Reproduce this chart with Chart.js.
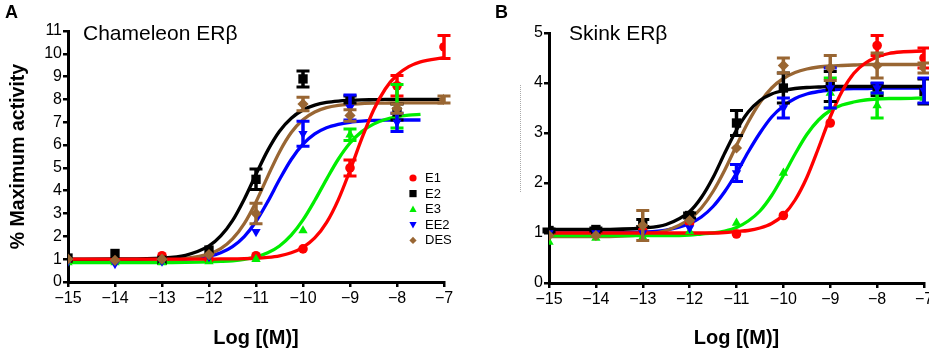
<!DOCTYPE html>
<html>
<head>
<meta charset="utf-8">
<script src="https://cdn.jsdelivr.net/npm/chart.js@4/dist/chart.umd.min.js"></script>
<style>
  html, body { margin: 0; padding: 0; background: #fff; overflow: hidden; width: 929px; height: 356px; }
  canvas { position: absolute; top: 0; }
  #chartA { left: 0; }
  #chartB { left: 470px; }
  .lbl { position: absolute; font-family: "Liberation Sans", Arial, sans-serif; color: #000; white-space: nowrap; }
  .letter { font-weight: bold; font-size: 18px; line-height: 18px; }
  .ptitle { font-size: 21px; line-height: 24px; }
  .dots { position: absolute; left: 520px; top: 85px; height: 107px; border-left: 1px dotted #aaa; }
</style>
</head>
<body>
<canvas id="chartA" width="465" height="356"></canvas>
<canvas id="chartB" width="480" height="356"></canvas>
<div class="lbl letter" style="left:5px;top:3px">A</div>
<div class="lbl letter" style="left:495px;top:3px">B</div>
<div class="lbl ptitle" style="left:83px;top:21px">Chameleon ERβ</div>
<div class="lbl ptitle" style="left:569px;top:21px">Skink ERβ</div>
<div class="dots"></div>
<script>
// log concentrations of the measured points and of the fitted curves
const xPoints = [-15, -14, -13, -12, -11, -10, -9, -8, -7];
const fitX = [-15, -14, -13, -12.5, -12, -11.75, -11.5, -11.25, -11, -10.75, -10.5, -10.25,
              -10, -9.75, -9.5, -9.25, -9, -8.75, -8.5, -8.25, -8, -7.75, -7.5, -7];
const seriesNames = ['E1', 'E2', 'E3', 'EE2', 'DES'];

// A - Chameleon ERb : means, error (half bar), fitted curve
const chamE1 = [0.95, 0.95, 1.15, 1.0, 1.15, 1.45, 5.0, 8.6, 10.3];
const chamE1Err = [0, 0, 0, 0, 0, 0, 0.35, 0.45, 0.5];
const chamE1Fit = [1.0, 1.0, 1.0, 1.0, 1.0, 1.01, 1.01, 1.02, 1.04, 1.08, 1.15, 1.28, 1.52, 1.93, 2.6, 3.6, 4.89, 6.28, 7.53, 8.46, 9.07, 9.44, 9.65, 9.83];
const chamE2 = [1.05, 1.25, 0.95, 1.4, 4.5, 8.9, 8.0, 7.45];
const chamE2Err = [0, 0, 0, 0, 0.45, 0.35, 0.15, 0.35];
const chamE2Fit = [1.0, 1.01, 1.05, 1.17, 1.58, 2.02, 2.69, 3.63, 4.72, 5.77, 6.61, 7.18, 7.54, 7.75, 7.87, 7.93, 7.96, 7.98, 7.99, 8.0, 8.0, 8.0, 8.0, 8.0];
const chamE3 = [0.85, 0.85, 0.85, 0.9, 1.0, 2.25, 6.45, 7.7];
const chamE3Err = [0, 0, 0, 0, 0, 0, 0.25, 0.95];
const chamE3Fit = [0.85, 0.85, 0.85, 0.86, 0.88, 0.9, 0.93, 0.99, 1.1, 1.28, 1.58, 2.05, 2.72, 3.57, 4.5, 5.38, 6.09, 6.59, 6.92, 7.12, 7.24, 7.31, 7.35, null];
const chamEE2 = [0.9, 0.8, 0.9, 1.1, 2.2, 6.5, 7.65, 7.0];
const chamEE2Err = [0, 0, 0, 0, 0, 0.55, 0.55, 0.4];
const chamEE2Fit = [0.95, 0.95, 0.97, 1.0, 1.13, 1.28, 1.55, 1.99, 2.65, 3.52, 4.49, 5.37, 6.04, 6.49, 6.76, 6.91, 7.0, 7.05, 7.08, 7.09, 7.1, 7.1, 7.1, null];
const chamDES = [1.0, 0.95, 1.0, 1.2, 3.0, 7.8, 7.3, 7.6, 8.0];
const chamDESErr = [0, 0, 0, 0, 0.45, 0.3, 0.25, 0.2, 0.15];
const chamDESFit = [0.95, 0.95, 0.97, 1.03, 1.23, 1.46, 1.89, 2.56, 3.51, 4.63, 5.7, 6.55, 7.11, 7.45, 7.64, 7.74, 7.79, 7.82, 7.84, 7.84, 7.85, 7.85, 7.85, 7.85];

// B - Skink ERb
const skinkE1 = [1.0, 1.0, 1.05, 1.2, 0.98, 1.35, 3.2, 4.75, 4.5];
const skinkE1Err = [0, 0, 0, 0, 0, 0, 0, 0.2, 0.2];
const skinkE1Fit = [1.0, 1.0, 1.0, 1.0, 1.0, 1.0, 1.0, 1.01, 1.03, 1.05, 1.1, 1.19, 1.36, 1.66, 2.11, 2.7, 3.32, 3.83, 4.19, 4.4, 4.52, 4.59, 4.62, 4.64];
const skinkE2 = [1.05, 1.07, 1.2, 1.35, 3.2, 3.9, 3.93, 3.87, 3.83];
const skinkE2Err = [0.03, 0.03, 0.07, 0.05, 0.25, 0.3, 0.3, 0.12, 0.25];
const skinkE2Fit = [1.07, 1.07, 1.1, 1.17, 1.43, 1.71, 2.11, 2.6, 3.06, 3.42, 3.65, 3.78, 3.85, 3.89, 3.91, 3.92, 3.93, 3.93, 3.93, 3.93, 3.93, 3.93, 3.93, 3.93];
const skinkE3 = [0.82, 0.9, 0.92, 1.03, 1.2, 2.2, 3.8, 3.55, 3.7];
const skinkE3Err = [0, 0, 0, 0, 0, 0, 0.3, 0.25, 0];
const skinkE3Fit = [0.95, 0.95, 0.95, 0.95, 0.96, 0.98, 1.0, 1.04, 1.11, 1.24, 1.44, 1.75, 2.15, 2.58, 2.97, 3.26, 3.45, 3.56, 3.62, 3.66, 3.68, 3.69, 3.69, 3.7];
const skinkEE2 = [1.0, 1.0, 1.0, 1.1, 2.2, 3.5, 3.9, 3.9, 3.85];
const skinkEE2Err = [0, 0, 0, 0, 0.17, 0.2, 0.4, 0.1, 0.25];
const skinkEE2Fit = [1.0, 1.0, 1.02, 1.06, 1.19, 1.32, 1.53, 1.83, 2.2, 2.62, 3.0, 3.32, 3.54, 3.69, 3.78, 3.83, 3.86, 3.88, 3.89, 3.89, 3.9, 3.9, 3.9, 3.9];
const skinkDES = [0.95, 0.95, 1.15, 1.25, 2.7, 4.35, 4.3, 4.35, 4.3];
const skinkDESErr = [0, 0, 0.3, 0, 0, 0.15, 0.25, 0.25, 0.1];
const skinkDESFit = [0.93, 0.93, 0.97, 1.05, 1.28, 1.5, 1.83, 2.26, 2.75, 3.22, 3.61, 3.9, 4.09, 4.21, 4.28, 4.32, 4.34, 4.35, 4.36, 4.37, 4.37, 4.37, 4.37, 4.37];

// styles
const colors = ['#ff0000', '#000000', '#00ee00', '#0000ff', '#996633'];
const shapes = ['circle', 'rect', 'triangle', 'triangle', 'rectRot'];
const rotations = [0, 0, 0, 180, 0];
const radii = [4.8, 6.6, 5.4, 5.4, 5.6];
const curveOrder = [10, 11, 12, 14, 13];

const FONT = '"Liberation Sans", Arial, sans-serif';
Chart.defaults.font.family = FONT;
Chart.defaults.color = '#000';

const errorBars = {
    id: 'errorBars',
    beforeDatasetDraw(chart, args) {
        const ds = chart.data.datasets[args.index];
        if (!ds.errors) return;
        const ctx = chart.ctx, ys = chart.scales.y;
        ctx.save();
        ctx.strokeStyle = ds.borderColor;
        args.meta.data.forEach((pt, i) => {
            const e = ds.errors[i];
            if (!e) return;
            const v = ds.data[i].y;
            const top = ys.getPixelForValue(v + e), bot = ys.getPixelForValue(v - e);
            ctx.lineWidth = 3.5;
            ctx.beginPath();
            ctx.moveTo(pt.x, top); ctx.lineTo(pt.x, bot);
            ctx.stroke();
            ctx.lineWidth = 3;
            ctx.beginPath();
            ctx.moveTo(pt.x - 6.5, top); ctx.lineTo(pt.x + 6.5, top);
            ctx.moveTo(pt.x - 6.5, bot); ctx.lineTo(pt.x + 6.5, bot);
            ctx.stroke();
        });
        ctx.restore();
    }
};

function marker(ctx, shape, rot, x, y, r) {
    ctx.beginPath();
    if (shape === 'circle') ctx.arc(x, y, r, 0, Math.PI * 2);
    else if (shape === 'rect') ctx.rect(x - r, y - r, 2 * r, 2 * r);
    else if (shape === 'rectRot') { ctx.moveTo(x, y - r); ctx.lineTo(x + r, y); ctx.lineTo(x, y + r); ctx.lineTo(x - r, y); }
    else {
        const d = rot ? -1 : 1;
        ctx.moveTo(x, y - d * r); ctx.lineTo(x + r, y + d * r * 0.75); ctx.lineTo(x - r, y + d * r * 0.75);
    }
    ctx.closePath();
    ctx.fill();
}

const legendBox = {
    id: 'legendBox',
    afterDraw(chart) {
        const ctx = chart.ctx;
        ctx.save();
        ctx.font = '13px ' + FONT;
        ctx.textBaseline = 'middle';
        seriesNames.forEach((name, i) => {
            const y = 178 + i * 15.6;
            ctx.fillStyle = colors[i];
            marker(ctx, shapes[i], rotations[i], 413, y, 3.6);
            ctx.fillStyle = '#000';
            ctx.fillText(name, 425, y + 0.5);
        });
        ctx.restore();
    }
};

function makeDatasets(means, errs, fits) {
    const sets = [];
    means.forEach((m, i) => {
        sets.push({
            label: seriesNames[i] + ' fit',
            data: fitX.map((x, j) => ({ x: x, y: fits[i][j] })).filter(p => p.y !== null),
            borderColor: colors[i],
            borderWidth: 3.3,
            pointRadius: 0,
            cubicInterpolationMode: 'monotone',
            fill: false,
            order: curveOrder[i]
        });
    });
    means.forEach((m, i) => {
        sets.push({
            label: seriesNames[i],
            data: m.map((v, j) => ({ x: xPoints[j], y: v })),
            errors: errs[i],
            showLine: false,
            borderColor: colors[i],
            backgroundColor: colors[i],
            pointStyle: shapes[i],
            pointRotation: rotations[i],
            pointRadius: radii[i],
            pointBorderWidth: 0,
            order: 5 - i
        });
    });
    return sets;
}

function axisX(bottomY) {
    return {
        type: 'linear', min: -15, max: -7,
        afterFit(s) { s.height = 356 - bottomY; },
        ticks: { stepSize: 1, padding: 2, font: { size: 16 }, color: '#000',
                 callback: v => String(v).replace('-', '\u2212') },
        grid: { drawOnChartArea: false, drawTicks: true, tickLength: 5, color: '#000', lineWidth: 2.5 },
        border: { display: true, color: '#000', width: 3 },
        title: { display: true, text: 'Log [(M)]', color: '#000', font: { size: 20, weight: 'bold' },
                 padding: { top: 0, bottom: 6 } }
    };
}

function axisY(max, width, title) {
    return {
        type: 'linear', min: 0, max: max,
        afterFit(s) { s.width = width; },
        ticks: { stepSize: 1, padding: 1, font: { size: 16 }, color: '#000' },
        grid: { drawOnChartArea: false, drawTicks: true, tickLength: 5, color: '#000', lineWidth: 2.5 },
        border: { display: true, color: '#000', width: 3 },
        title: { display: !!title, text: title || '', color: '#000', font: { size: 19.5, weight: 'bold' },
                 padding: { top: 7, bottom: 0 } }
    };
}

function baseOptions(xs, ys, pad) {
    return {
        responsive: false,
        animation: false,
        devicePixelRatio: 1,
        layout: { padding: pad },
        plugins: { legend: { display: false }, tooltip: { enabled: false } },
        scales: { x: xs, y: ys }
    };
}

new Chart(document.getElementById('chartA'), {
    type: 'line',
    data: { datasets: makeDatasets(
        [chamE1, chamE2, chamE3, chamEE2, chamDES],
        [chamE1Err, chamE2Err, chamE3Err, chamEE2Err, chamDESErr],
        [chamE1Fit, chamE2Fit, chamE3Fit, chamEE2Fit, chamDESFit]) },
    options: baseOptions(axisX(282), axisY(11, 68, '% Maximum activity'), { top: 31, right: 21, left: 0, bottom: 0 }),
    plugins: [errorBars, legendBox]
});

new Chart(document.getElementById('chartB'), {
    type: 'line',
    data: { datasets: makeDatasets(
        [skinkE1, skinkE2, skinkE3, skinkEE2, skinkDES],
        [skinkE1Err, skinkE2Err, skinkE3Err, skinkEE2Err, skinkDESErr],
        [skinkE1Fit, skinkE2Fit, skinkE3Fit, skinkEE2Fit, skinkDESFit]) },
    options: baseOptions(axisX(283), axisY(5, 79, ''), { top: 33, right: 26, left: 0, bottom: 0 }),
    plugins: [errorBars]
});
</script>
</body>
</html>
